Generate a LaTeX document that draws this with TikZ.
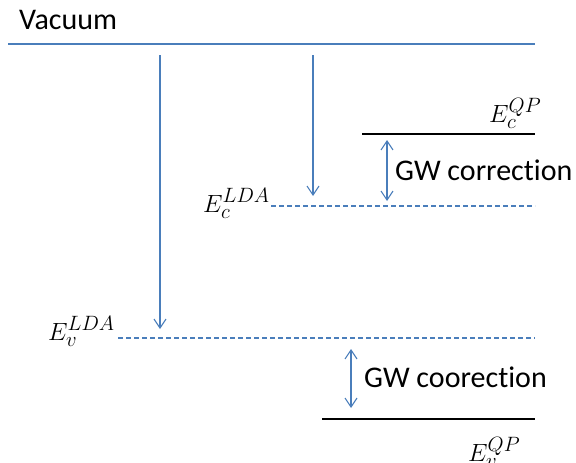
\documentclass[tikz,border=0pt]{standalone}
\usepackage{fontspec}
\setmainfont{Carlito}[Ligatures=NoCommon,RawFeature={-liga;-clig;-calt;-dlig}]
\usetikzlibrary{arrows.meta}
\definecolor{lvlblue}{HTML}{4A7EBB}
\tikzset{
  lvl/.style={draw=lvlblue, line width=1.1pt},
  qp/.style={draw=black, line width=1.4pt},
  lda/.style={draw=lvlblue, line width=1.1pt, dash pattern=on 5pt off 3pt},
  down/.style={draw=lvlblue, line width=1.1pt, -{Straight Barb[length=9pt,width=12pt,line width=1.1pt]}},
  both/.style={draw=lvlblue, line width=1.1pt, {Straight Barb[length=9pt,width=12pt,line width=1.1pt]}-{Straight Barb[length=9pt,width=12pt,line width=1.1pt]}},
  txt/.style={inner sep=0pt, font=\fontsize{30}{34}\selectfont},
  mth/.style={inner sep=0pt, font=\fontsize{29.5}{34}\selectfont},
}
\begin{document}
\begin{tikzpicture}[x=1pt,y=-1pt]
\useasboundingbox (0,0) rectangle (576,463);
% coordinates
\coordinate (vacL) at (8,44);
\coordinate (vacR) at (535,44);
\coordinate (a1s) at (160,55);
\coordinate (a1e) at (160,329);
\coordinate (a2s) at (313,55);
\coordinate (a2e) at (313,196);
\coordinate (cqpL) at (362,134);
\coordinate (cqpR) at (535,134);
\coordinate (cldaL) at (271,206);
\coordinate (cldaR) at (535,206);
\coordinate (vldaL) at (118,338);
\coordinate (vldaR) at (535,338);
\coordinate (vqpL) at (322,419);
\coordinate (vqpR) at (535,419);
\coordinate (g1s) at (387,140);
\coordinate (g1e) at (387,201);
\coordinate (g2s) at (351,349);
\coordinate (g2e) at (351,408);
% lines
\draw[lvl] (vacL) -- (vacR);
\draw[qp] (cqpL) -- (cqpR);
\draw[lda] (cldaL) -- (cldaR);
\draw[lda] (vldaL) -- (vldaR);
\draw[qp] (vqpL) -- (vqpR);
% arrows
\draw[down] (a1s) -- (a1e);
\draw[down] (a2s) -- (a2e);
\draw[both] (g1s) -- (g1e);
\draw[both] (g2s) -- (g2e);
% labels
\node[txt, anchor=base west] (vac) at (19,29) {Vacuum};
\node[txt, anchor=west] (gw1) at (395,170) {GW correc\kern0pt tion};
\node[txt, anchor=west] (gw2) at (364,377) {GW coorec\kern0pt tion};
\node[mth, anchor=base west] (ecqp) at (489,122) {$E_c^{QP}$};
\node[mth, anchor=base west] (eclda) at (203,212) {$E_c^{LDA}$};
\node[mth, anchor=base west] (evlda) at (48,340) {$E_v^{LDA}$};
\node[mth, anchor=base west] (evqp) at (468,461) {$E_v^{QP}$};
\end{tikzpicture}
\end{document}
